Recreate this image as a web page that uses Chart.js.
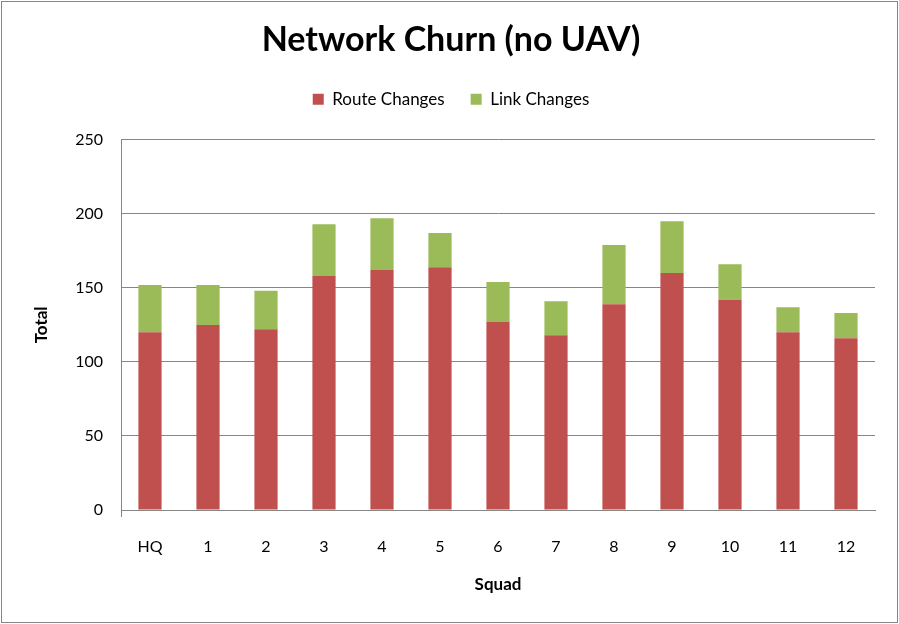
<!DOCTYPE html>
<html><head><meta charset="utf-8">
<script src="https://cdn.jsdelivr.net/npm/chart.js@4"></script>
<style>html,body{margin:0;padding:0;background:#fff}canvas{display:block}</style>
</head><body>
<canvas id="c" width="899" height="624"></canvas>
<script>
const categories = ['HQ','1','2','3','4','5','6','7','8','9','10','11','12'];
const routeChanges = [120,125,122,158,162,164,127,118,139,160,142,120,116];
const linkChanges = [32,27,26,35,35,23,27,23,40,35,24,17,17];
const yTicks = [0,50,100,150,200,250];

const FONT = "Lato, 'Open Sans', sans-serif";
const borderPlugin = {
  id:'border',
  beforeInit(chart){
    const lg = chart.legend;
    if (lg) {
      const fit = lg.fit;
      lg.fit = function(){ fit.call(this); this.height += 22; };
    }
  },
  beforeDraw(chart){
    const c = chart.ctx;
    c.save();
    c.fillStyle='#fff';
    c.fillRect(0,0,chart.width,chart.height);
    c.restore();
  },
  afterDraw(chart){
    const c = chart.ctx;
    c.save();
    c.strokeStyle='#868686';
    c.lineWidth=1;
    c.strokeRect(1.5,1.5,chart.width-3,chart.height-3);
    c.restore();
  }
};

new Chart(document.getElementById('c'), {
  type:'bar',
  data:{
    labels:categories,
    datasets:[
      {label:'Route Changes', data:routeChanges, backgroundColor:'#C0504D', barPercentage:0.4, categoryPercentage:1},
      {label:'Link Changes', data:linkChanges, backgroundColor:'#9BBB59', barPercentage:0.4, categoryPercentage:1}
    ]
  },
  options:{
    responsive:false,
    animation:false,
    layout:{padding:{left:27,right:24,top:0,bottom:25}},
    plugins:{
      title:{display:true, text:'Network Churn (no UAV)', color:'#000',
        font:{family:FONT, size:34, weight:'bold'}, padding:{top:20,bottom:4}},
      legend:{display:true, position:'top',
        labels:{color:'#000', font:{family:FONT, size:17}, boxWidth:11, boxHeight:11, padding:26}},
      tooltip:{enabled:false}
    },
    scales:{
      x:{stacked:true,
        grid:{display:true, drawOnChartArea:false, offset:true, tickLength:7,
          color:(ctx)=> ctx.index===0 ? '#868686' : 'rgba(0,0,0,0)'},
        border:{color:'#868686'},
        ticks:{color:'#000', font:{family:FONT, size:16}, padding:20},
        title:{display:true, text:'Squad', color:'#000', font:{family:FONT, size:17, weight:'bold'}, padding:{top:16}},
        afterFit(s){ s.height = 624 - 510 - 25; }
      },
      y:{stacked:true, min:0, max:250,
        afterBuildTicks(s){ s.ticks = yTicks.map(v=>({value:v})); },
        grid:{color:'#868686', tickLength:0},
        border:{color:'#868686'},
        ticks:{color:'#000', font:{family:FONT, size:16}, padding:18},
        title:{display:true, text:'Total', color:'#000', font:{family:FONT, size:17, weight:'bold'}, padding:{bottom:28}},
        afterFit(s){ s.width = 121 - 27; }
      }
    }
  },
  plugins:[borderPlugin]
});
</script>
</body></html>
